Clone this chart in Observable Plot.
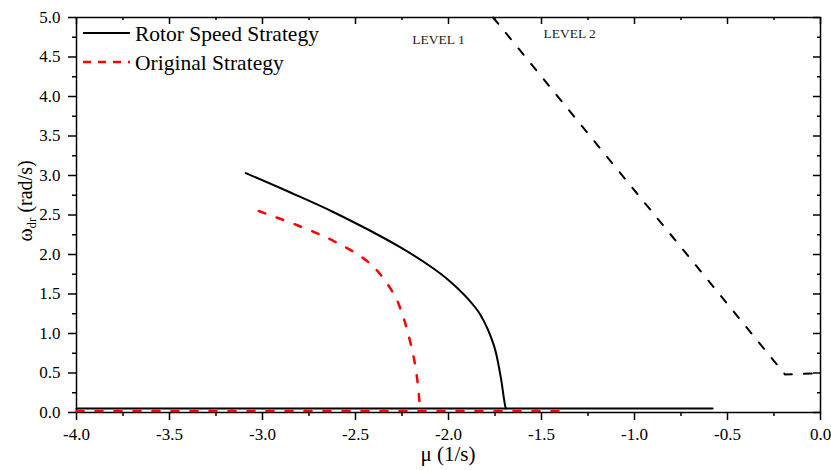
<!DOCTYPE html>
<html>
<head>
<meta charset="utf-8">
<script src="https://cdn.jsdelivr.net/npm/d3@7"></script>
<script src="https://cdn.jsdelivr.net/npm/@observablehq/plot@0.6"></script>
<style>
  body { margin: 0; background: #fff; }
  #chart svg { display: block; }
  #chart svg, #chart svg text, #chart svg tspan { font-family: "Liberation Serif", "DejaVu Serif", serif !important; }
</style>
</head>
<body>
<div id="chart"></div>
<script>
// ---- data ----
const rotorX = [-3.09, -2.85, -2.617, -2.258, -2.079, -2.007, -1.90, -1.828, -1.756, -1.72, -1.694, -1.69];
const rotorY = [3.03, 2.785, 2.535, 2.09, 1.82, 1.69, 1.45, 1.235, 0.85, 0.46, 0.07, 0.05];

const origX = [-3.02, -2.813, -2.617, -2.419, -2.294, -2.249, -2.222, -2.187, -2.165, -2.154, -2.152];
const origY = [2.55, 2.37, 2.17, 1.88, 1.50, 1.25, 1.04, 0.70, 0.36, 0.07, 0.02];

const rotorFlatX = [-4.0, -0.58];
const rotorFlatY = [0.05, 0.05];

const origFlatX = [-4.0, -1.4];
const origFlatY = [0.02, 0.02];

const level2X = [-1.76, -0.19, 0.0];
const level2Y = [5.0, 0.48, 0.5];

const levelLabels = ["LEVEL 1", "LEVEL 2"];
const levelLabelX = [-2.054, -1.349];
const levelLabelY = [4.66, 4.74];

const xTicks = [-4.0, -3.5, -3.0, -2.5, -2.0, -1.5, -1.0, -0.5, 0.0];
const xMinor = [-3.75, -3.25, -2.75, -2.25, -1.75, -1.25, -0.75, -0.25];
const yTicks = [0.0, 0.5, 1.0, 1.5, 2.0, 2.5, 3.0, 3.5, 4.0, 4.5, 5.0];
const yMinor = [0.25, 0.75, 1.25, 1.75, 2.25, 2.75, 3.25, 3.75, 4.25, 4.75];

const seriesNames = ["Rotor Speed Strategy", "Original Strategy"];
const xLabel = "μ (1/s)";

// ---- build tables ----
const zip = (xs, ys) => xs.map((x, i) => ({x, y: ys[i]}));
const rotor = zip(rotorX, rotorY);
const orig = zip(origX, origY);
const rotorFlat = zip(rotorFlatX, rotorFlatY);
const origFlat = zip(origFlatX, origFlatY);
const level2 = zip(level2X, level2Y);
const levels = levelLabels.map((t, i) => ({t, x: levelLabelX[i], y: levelLabelY[i]}));

const W = 831, H = 470;
const mL = 76, mR = 11, mT = 17, mB = 58;
const plotW = W - mL - mR, plotH = H - mT - mB;
const FONT = "Liberation Serif, DejaVu Serif, serif";

const chart = Plot.plot({
  width: W,
  height: H,
  marginLeft: mL,
  marginRight: mR,
  marginTop: mT,
  marginBottom: mB,
  style: {background: "#fff", color: "#000", overflow: "visible"},
  x: {domain: [-4, 0]},
  y: {domain: [0, 5]},
  marks: [
    Plot.axisX({ticks: xTicks, tickSize: 8, tickPadding: 7, tickFormat: d => d.toFixed(1), fontSize: 17, label: null, strokeWidth: 1.5, fontFamily: FONT}),
    Plot.axisX({ticks: xMinor, tickSize: 4, tickFormat: () => "", label: null, strokeWidth: 1.5}),
    Plot.axisY({ticks: yTicks, tickSize: 8, tickPadding: 8, tickFormat: d => d.toFixed(1), fontSize: 17, label: null, strokeWidth: 1.5, fontFamily: FONT}),
    Plot.axisY({ticks: yMinor, tickSize: 4, tickFormat: () => "", label: null, strokeWidth: 1.5}),
    // inward ticks on the top and right edges
    Plot.tickX(xTicks, {x: d => d, insetBottom: plotH - 7, stroke: "black", strokeWidth: 1.5}),
    Plot.tickX(xMinor, {x: d => d, insetBottom: plotH - 3, stroke: "black", strokeWidth: 1.5}),
    Plot.tickY(yTicks, {y: d => d, insetLeft: plotW - 7, stroke: "black", strokeWidth: 1.5}),
    Plot.tickY(yMinor, {y: d => d, insetLeft: plotW - 3, stroke: "black", strokeWidth: 1.5}),
    Plot.frame({stroke: "black", strokeWidth: 1.5}),
    // series
    Plot.line(rotorFlat, {x: "x", y: "y", stroke: "black", strokeWidth: 2}),
    Plot.line(origFlat, {x: "x", y: "y", stroke: "#ff0000", strokeWidth: 2.5, strokeDasharray: "7,12"}),
    Plot.line(rotor, {x: "x", y: "y", stroke: "black", strokeWidth: 2, curve: "catmull-rom"}),
    Plot.line(orig, {x: "x", y: "y", stroke: "#ff0000", strokeWidth: 2.5, strokeDasharray: "7,12", curve: "catmull-rom"}),
    Plot.line(level2, {x: "x", y: "y", stroke: "black", strokeWidth: 2, strokeDasharray: "8,12"}),
    Plot.text(levels, {x: "x", y: "y", text: "t", fontSize: 13.5, textAnchor: "middle", lineAnchor: "bottom", fill: "#222", fontFamily: FONT})
  ]
});

document.getElementById("chart").appendChild(chart);

// ---- axis titles and legend ----
const svg = d3.select(chart);
const xs = chart.scale("x");

svg.append("text")
  .attr("x", (xs.apply(-4) + xs.apply(0)) / 2)
  .attr("y", 461)
  .attr("text-anchor", "middle")
  .attr("font-size", 21)
  .attr("fill", "black")
  .text(xLabel);

const yl = svg.append("text")
  .attr("transform", "translate(32,201) rotate(-90)")
  .attr("text-anchor", "middle")
  .attr("font-size", 20)
  .attr("fill", "black");
yl.append("tspan").text("ω");
yl.append("tspan").attr("font-size", 13).attr("dy", 4).text("dr");
yl.append("tspan").attr("dy", -4).text(" (rad/s)");

const legend = svg.append("g").attr("font-size", 21.5).attr("text-anchor", "start");
const legendRows = [
  {name: seriesNames[0], stroke: "black", dash: null, y: 33, w: 2},
  {name: seriesNames[1], stroke: "#ff0000", dash: "8,7", y: 62, w: 2.5}
];
legendRows.forEach(r => {
  legend.append("line")
    .attr("x1", 83).attr("x2", 130).attr("y1", r.y).attr("y2", r.y)
    .attr("stroke", r.stroke).attr("stroke-width", r.w)
    .attr("stroke-dasharray", r.dash);
  legend.append("text")
    .attr("x", 135).attr("y", r.y + 8)
    .attr("text-anchor", "start")
    .attr("fill", "black")
    .text(r.name);
});

// force the serif face on every text element
svg.attr("font-family", FONT).style("font-family", FONT);
svg.selectAll("text, tspan").attr("font-family", FONT).style("font-family", FONT);
</script>
</body>
</html>
